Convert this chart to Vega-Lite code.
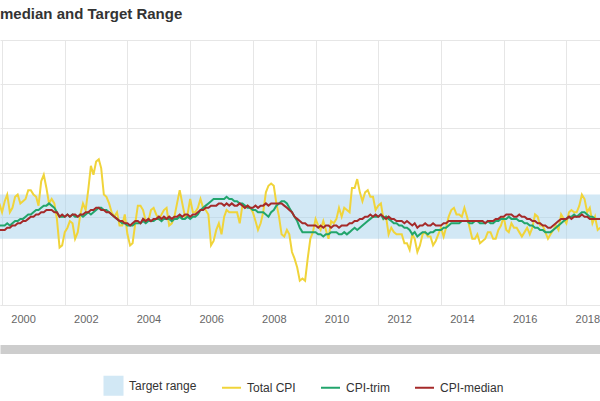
{
"$schema": "https://vega.github.io/schema/vega-lite/v6.json",
"width": 600,
"height": 265,
"autosize": {"type": "none"},
"padding": {"left": 0, "top": 40, "right": 0, "bottom": 96},
"background": "#ffffff",
"title": {"text": "median and Target Range", "anchor": "start", "frame": "group", "fontSize": 15, "fontWeight": "bold", "color": "#333333", "font": "Liberation Sans", "baseline": "alphabetic", "offset": 6},
"config": {"view": {"stroke": null}},
"layer": [
{
"data": {"values": [{"start": "1999-01-01", "end": "2020-01-01", "lo": 1, "hi": 3, "series": "Target range"}]},
"mark": {"type": "rect", "opacity": 0.5, "clip": true},
"encoding": {
"x": {"field": "start", "type": "temporal", "scale": {"type": "utc", "nice": false, "domain": [{"year": 1999, "month": 12, "date": 8, "utc": true}, {"year": 2019, "month": 1, "date": 28, "utc": true}]}, "axis": {"orient": "bottom", "offset": 44, "domainWidth": 9, "domainColor": "#cdcdcd", "labels": false, "ticks": false, "grid": false, "title": null}},
"x2": {"field": "end"},
"y": {"field": "lo", "type": "quantitative", "scale": {"domain": [-2, 10], "nice": false, "zero": false}, "axis": {"values": [-2, 0, 2, 4, 6, 8, 10], "labels": false, "ticks": false, "domain": false, "grid": true, "gridColor": "#e6e6e6", "title": null}},
"y2": {"field": "hi"},
"color": {"field": "series", "type": "nominal", "scale": {"domain": ["Target range", "Total CPI", "CPI-trim", "CPI-median"], "range": ["#a5d1eb", "#f0d43a", "#22a56c", "#a52a2a"]},
"legend": {"orient": "none", "legendX": 103, "legendY": 335, "direction": "horizontal", "title": null, "symbolSize": 400, "symbolType": "square", "labelFont": "Liberation Sans", "labelFontSize": 12, "labelColor": "#333333", "labelOffset": 5, "columnPadding": 21, "padding": 0,
"encode": {"symbols": {"update": {
"shape": {"signal": "datum.value === 'Target range' ? 'square' : 'stroke'"},
"size": {"signal": "datum.value === 'Target range' ? 400 : 361"},
"fill": {"scale": "color", "field": "value"},
"fillOpacity": {"signal": "datum.value === 'Target range' ? 0.5 : 0"},
"stroke": {"signal": "datum.value === 'Target range' ? 'transparent' : datum.value === 'Total CPI' ? '#f0d43a' : datum.value === 'CPI-trim' ? '#22a56c' : '#a52a2a'"},
"strokeWidth": {"value": 2},
"opacity": {"value": 1},
"strokeOpacity": {"signal": "datum.value === 'Target range' ? 0 : 1"}
}}}}}
}
},
{
"data": {"values": [
{"date":"1999-12-01","Total CPI":2.6,"CPI-trim":1.6,"CPI-median":1.4},
{"date":"2000-01-01","Total CPI":2.2,"CPI-trim":1.6,"CPI-median":1.4},
{"date":"2000-02-01","Total CPI":2.7,"CPI-trim":1.6,"CPI-median":1.4},
{"date":"2000-03-01","Total CPI":3.0,"CPI-trim":1.7,"CPI-median":1.5},
{"date":"2000-04-01","Total CPI":2.2,"CPI-trim":1.6,"CPI-median":1.5},
{"date":"2000-05-01","Total CPI":2.4,"CPI-trim":1.7,"CPI-median":1.6},
{"date":"2000-06-01","Total CPI":2.9,"CPI-trim":1.8,"CPI-median":1.6},
{"date":"2000-07-01","Total CPI":3.0,"CPI-trim":1.8,"CPI-median":1.7},
{"date":"2000-08-01","Total CPI":2.6,"CPI-trim":1.9,"CPI-median":1.7},
{"date":"2000-09-01","Total CPI":2.7,"CPI-trim":1.9,"CPI-median":1.8},
{"date":"2000-10-01","Total CPI":2.8,"CPI-trim":2.0,"CPI-median":1.8},
{"date":"2000-11-01","Total CPI":3.2,"CPI-trim":2.1,"CPI-median":1.9},
{"date":"2000-12-01","Total CPI":3.2,"CPI-trim":2.1,"CPI-median":2.0},
{"date":"2001-01-01","Total CPI":3.0,"CPI-trim":2.2,"CPI-median":2.0},
{"date":"2001-02-01","Total CPI":2.9,"CPI-trim":2.3,"CPI-median":2.1},
{"date":"2001-03-01","Total CPI":2.5,"CPI-trim":2.3,"CPI-median":2.1},
{"date":"2001-04-01","Total CPI":3.6,"CPI-trim":2.4,"CPI-median":2.2},
{"date":"2001-05-01","Total CPI":3.9,"CPI-trim":2.5,"CPI-median":2.2},
{"date":"2001-06-01","Total CPI":3.3,"CPI-trim":2.5,"CPI-median":2.3},
{"date":"2001-07-01","Total CPI":2.6,"CPI-trim":2.6,"CPI-median":2.3},
{"date":"2001-08-01","Total CPI":2.8,"CPI-trim":2.5,"CPI-median":2.3},
{"date":"2001-09-01","Total CPI":2.6,"CPI-trim":2.4,"CPI-median":2.2},
{"date":"2001-10-01","Total CPI":1.9,"CPI-trim":2.2,"CPI-median":2.2},
{"date":"2001-11-01","Total CPI":0.6,"CPI-trim":2.0,"CPI-median":2.0},
{"date":"2001-12-01","Total CPI":0.7,"CPI-trim":2.0,"CPI-median":2.1},
{"date":"2002-01-01","Total CPI":1.3,"CPI-trim":2.0,"CPI-median":2.0},
{"date":"2002-02-01","Total CPI":1.5,"CPI-trim":2.1,"CPI-median":2.1},
{"date":"2002-03-01","Total CPI":1.8,"CPI-trim":2.0,"CPI-median":2.0},
{"date":"2002-04-01","Total CPI":1.7,"CPI-trim":2.1,"CPI-median":2.1},
{"date":"2002-05-01","Total CPI":1.0,"CPI-trim":2.0,"CPI-median":2.1},
{"date":"2002-06-01","Total CPI":1.3,"CPI-trim":2.0,"CPI-median":2.0},
{"date":"2002-07-01","Total CPI":2.1,"CPI-trim":2.1,"CPI-median":2.1},
{"date":"2002-08-01","Total CPI":2.6,"CPI-trim":2.0,"CPI-median":2.1},
{"date":"2002-09-01","Total CPI":2.3,"CPI-trim":2.1,"CPI-median":2.2},
{"date":"2002-10-01","Total CPI":3.2,"CPI-trim":2.2,"CPI-median":2.2},
{"date":"2002-11-01","Total CPI":4.3,"CPI-trim":2.1,"CPI-median":2.3},
{"date":"2002-12-01","Total CPI":3.9,"CPI-trim":2.2,"CPI-median":2.3},
{"date":"2003-01-01","Total CPI":4.5,"CPI-trim":2.3,"CPI-median":2.4},
{"date":"2003-02-01","Total CPI":4.6,"CPI-trim":2.4,"CPI-median":2.4},
{"date":"2003-03-01","Total CPI":4.2,"CPI-trim":2.4,"CPI-median":2.3},
{"date":"2003-04-01","Total CPI":3.0,"CPI-trim":2.3,"CPI-median":2.3},
{"date":"2003-05-01","Total CPI":2.9,"CPI-trim":2.3,"CPI-median":2.2},
{"date":"2003-06-01","Total CPI":2.6,"CPI-trim":2.2,"CPI-median":2.2},
{"date":"2003-07-01","Total CPI":2.2,"CPI-trim":2.1,"CPI-median":2.1},
{"date":"2003-08-01","Total CPI":2.0,"CPI-trim":2.0,"CPI-median":2.0},
{"date":"2003-09-01","Total CPI":2.2,"CPI-trim":1.9,"CPI-median":1.9},
{"date":"2003-10-01","Total CPI":1.6,"CPI-trim":1.8,"CPI-median":1.8},
{"date":"2003-11-01","Total CPI":1.6,"CPI-trim":1.7,"CPI-median":1.8},
{"date":"2003-12-01","Total CPI":2.1,"CPI-trim":1.7,"CPI-median":1.7},
{"date":"2004-01-01","Total CPI":1.2,"CPI-trim":1.6,"CPI-median":1.7},
{"date":"2004-02-01","Total CPI":0.7,"CPI-trim":1.6,"CPI-median":1.6},
{"date":"2004-03-01","Total CPI":0.8,"CPI-trim":1.6,"CPI-median":1.7},
{"date":"2004-04-01","Total CPI":1.7,"CPI-trim":1.7,"CPI-median":1.8},
{"date":"2004-05-01","Total CPI":2.5,"CPI-trim":1.7,"CPI-median":1.8},
{"date":"2004-06-01","Total CPI":2.5,"CPI-trim":1.7,"CPI-median":1.7},
{"date":"2004-07-01","Total CPI":2.3,"CPI-trim":1.8,"CPI-median":1.9},
{"date":"2004-08-01","Total CPI":1.8,"CPI-trim":1.7,"CPI-median":1.8},
{"date":"2004-09-01","Total CPI":1.8,"CPI-trim":1.8,"CPI-median":1.9},
{"date":"2004-10-01","Total CPI":2.3,"CPI-trim":1.8,"CPI-median":1.8},
{"date":"2004-11-01","Total CPI":2.4,"CPI-trim":1.8,"CPI-median":1.9},
{"date":"2004-12-01","Total CPI":2.1,"CPI-trim":1.9,"CPI-median":1.9},
{"date":"2005-01-01","Total CPI":1.9,"CPI-trim":1.9,"CPI-median":2.0},
{"date":"2005-02-01","Total CPI":2.1,"CPI-trim":1.8,"CPI-median":1.9},
{"date":"2005-03-01","Total CPI":2.3,"CPI-trim":1.9,"CPI-median":2.0},
{"date":"2005-04-01","Total CPI":2.4,"CPI-trim":1.9,"CPI-median":1.9},
{"date":"2005-05-01","Total CPI":1.6,"CPI-trim":1.9,"CPI-median":2.0},
{"date":"2005-06-01","Total CPI":1.7,"CPI-trim":1.8,"CPI-median":1.9},
{"date":"2005-07-01","Total CPI":2.0,"CPI-trim":1.9,"CPI-median":2.0},
{"date":"2005-08-01","Total CPI":2.6,"CPI-trim":1.9,"CPI-median":2.0},
{"date":"2005-09-01","Total CPI":3.2,"CPI-trim":2.0,"CPI-median":2.1},
{"date":"2005-10-01","Total CPI":2.6,"CPI-trim":1.9,"CPI-median":2.0},
{"date":"2005-11-01","Total CPI":2.0,"CPI-trim":1.9,"CPI-median":2.1},
{"date":"2005-12-01","Total CPI":2.1,"CPI-trim":2.0,"CPI-median":2.1},
{"date":"2006-01-01","Total CPI":2.8,"CPI-trim":1.9,"CPI-median":2.0},
{"date":"2006-02-01","Total CPI":2.2,"CPI-trim":2.0,"CPI-median":2.1},
{"date":"2006-03-01","Total CPI":2.2,"CPI-trim":2.0,"CPI-median":2.1},
{"date":"2006-04-01","Total CPI":2.4,"CPI-trim":2.1,"CPI-median":2.2},
{"date":"2006-05-01","Total CPI":2.8,"CPI-trim":2.3,"CPI-median":2.3},
{"date":"2006-06-01","Total CPI":2.4,"CPI-trim":2.4,"CPI-median":2.3},
{"date":"2006-07-01","Total CPI":2.3,"CPI-trim":2.5,"CPI-median":2.4},
{"date":"2006-08-01","Total CPI":2.1,"CPI-trim":2.6,"CPI-median":2.4},
{"date":"2006-09-01","Total CPI":0.7,"CPI-trim":2.7,"CPI-median":2.5},
{"date":"2006-10-01","Total CPI":0.9,"CPI-trim":2.8,"CPI-median":2.5},
{"date":"2006-11-01","Total CPI":1.4,"CPI-trim":2.8,"CPI-median":2.5},
{"date":"2006-12-01","Total CPI":1.7,"CPI-trim":2.8,"CPI-median":2.6},
{"date":"2007-01-01","Total CPI":1.2,"CPI-trim":2.8,"CPI-median":2.6},
{"date":"2007-02-01","Total CPI":2.0,"CPI-trim":2.8,"CPI-median":2.5},
{"date":"2007-03-01","Total CPI":2.3,"CPI-trim":2.9,"CPI-median":2.6},
{"date":"2007-04-01","Total CPI":2.2,"CPI-trim":2.8,"CPI-median":2.5},
{"date":"2007-05-01","Total CPI":2.2,"CPI-trim":2.8,"CPI-median":2.6},
{"date":"2007-06-01","Total CPI":2.2,"CPI-trim":2.7,"CPI-median":2.5},
{"date":"2007-07-01","Total CPI":2.2,"CPI-trim":2.7,"CPI-median":2.5},
{"date":"2007-08-01","Total CPI":1.7,"CPI-trim":2.6,"CPI-median":2.6},
{"date":"2007-09-01","Total CPI":2.5,"CPI-trim":2.6,"CPI-median":2.5},
{"date":"2007-10-01","Total CPI":2.4,"CPI-trim":2.5,"CPI-median":2.4},
{"date":"2007-11-01","Total CPI":2.5,"CPI-trim":2.4,"CPI-median":2.5},
{"date":"2007-12-01","Total CPI":2.4,"CPI-trim":2.4,"CPI-median":2.4},
{"date":"2008-01-01","Total CPI":2.2,"CPI-trim":2.3,"CPI-median":2.4},
{"date":"2008-02-01","Total CPI":1.8,"CPI-trim":2.3,"CPI-median":2.5},
{"date":"2008-03-01","Total CPI":1.4,"CPI-trim":2.2,"CPI-median":2.4},
{"date":"2008-04-01","Total CPI":1.7,"CPI-trim":2.2,"CPI-median":2.5},
{"date":"2008-05-01","Total CPI":2.2,"CPI-trim":2.2,"CPI-median":2.5},
{"date":"2008-06-01","Total CPI":3.1,"CPI-trim":2.1,"CPI-median":2.6},
{"date":"2008-07-01","Total CPI":3.4,"CPI-trim":2.0,"CPI-median":2.5},
{"date":"2008-08-01","Total CPI":3.5,"CPI-trim":2.2,"CPI-median":2.6},
{"date":"2008-09-01","Total CPI":3.4,"CPI-trim":2.3,"CPI-median":2.6},
{"date":"2008-10-01","Total CPI":2.6,"CPI-trim":2.5,"CPI-median":2.6},
{"date":"2008-11-01","Total CPI":2.0,"CPI-trim":2.6,"CPI-median":2.6},
{"date":"2008-12-01","Total CPI":1.2,"CPI-trim":2.7,"CPI-median":2.6},
{"date":"2009-01-01","Total CPI":1.1,"CPI-trim":2.7,"CPI-median":2.5},
{"date":"2009-02-01","Total CPI":1.4,"CPI-trim":2.6,"CPI-median":2.4},
{"date":"2009-03-01","Total CPI":1.2,"CPI-trim":2.4,"CPI-median":2.3},
{"date":"2009-04-01","Total CPI":0.4,"CPI-trim":2.2,"CPI-median":2.2},
{"date":"2009-05-01","Total CPI":0.1,"CPI-trim":2.0,"CPI-median":2.0},
{"date":"2009-06-01","Total CPI":-0.3,"CPI-trim":1.8,"CPI-median":1.9},
{"date":"2009-07-01","Total CPI":-0.9,"CPI-trim":1.5,"CPI-median":1.8},
{"date":"2009-08-01","Total CPI":-0.8,"CPI-trim":1.3,"CPI-median":1.7},
{"date":"2009-09-01","Total CPI":-0.9,"CPI-trim":1.3,"CPI-median":1.7},
{"date":"2009-10-01","Total CPI":0.1,"CPI-trim":1.3,"CPI-median":1.6},
{"date":"2009-11-01","Total CPI":1.0,"CPI-trim":1.3,"CPI-median":1.6},
{"date":"2009-12-01","Total CPI":1.3,"CPI-trim":1.3,"CPI-median":1.6},
{"date":"2010-01-01","Total CPI":1.9,"CPI-trim":1.3,"CPI-median":1.6},
{"date":"2010-02-01","Total CPI":1.6,"CPI-trim":1.2,"CPI-median":1.5},
{"date":"2010-03-01","Total CPI":1.4,"CPI-trim":1.2,"CPI-median":1.6},
{"date":"2010-04-01","Total CPI":1.8,"CPI-trim":1.1,"CPI-median":1.5},
{"date":"2010-05-01","Total CPI":1.4,"CPI-trim":1.2,"CPI-median":1.6},
{"date":"2010-06-01","Total CPI":1.0,"CPI-trim":1.2,"CPI-median":1.6},
{"date":"2010-07-01","Total CPI":1.8,"CPI-trim":1.3,"CPI-median":1.5},
{"date":"2010-08-01","Total CPI":1.7,"CPI-trim":1.3,"CPI-median":1.6},
{"date":"2010-09-01","Total CPI":1.9,"CPI-trim":1.3,"CPI-median":1.6},
{"date":"2010-10-01","Total CPI":2.4,"CPI-trim":1.2,"CPI-median":1.5},
{"date":"2010-11-01","Total CPI":2.0,"CPI-trim":1.2,"CPI-median":1.6},
{"date":"2010-12-01","Total CPI":2.4,"CPI-trim":1.3,"CPI-median":1.6},
{"date":"2011-01-01","Total CPI":2.3,"CPI-trim":1.2,"CPI-median":1.6},
{"date":"2011-02-01","Total CPI":2.2,"CPI-trim":1.3,"CPI-median":1.7},
{"date":"2011-03-01","Total CPI":3.3,"CPI-trim":1.4,"CPI-median":1.7},
{"date":"2011-04-01","Total CPI":3.3,"CPI-trim":1.5,"CPI-median":1.8},
{"date":"2011-05-01","Total CPI":3.7,"CPI-trim":1.4,"CPI-median":1.8},
{"date":"2011-06-01","Total CPI":3.1,"CPI-trim":1.5,"CPI-median":1.9},
{"date":"2011-07-01","Total CPI":2.7,"CPI-trim":1.6,"CPI-median":1.9},
{"date":"2011-08-01","Total CPI":3.1,"CPI-trim":1.7,"CPI-median":2.0},
{"date":"2011-09-01","Total CPI":3.2,"CPI-trim":1.8,"CPI-median":2.0},
{"date":"2011-10-01","Total CPI":2.9,"CPI-trim":1.9,"CPI-median":2.1},
{"date":"2011-11-01","Total CPI":2.9,"CPI-trim":2.0,"CPI-median":2.0},
{"date":"2011-12-01","Total CPI":2.3,"CPI-trim":2.0,"CPI-median":2.1},
{"date":"2012-01-01","Total CPI":2.5,"CPI-trim":2.0,"CPI-median":2.0},
{"date":"2012-02-01","Total CPI":2.6,"CPI-trim":2.1,"CPI-median":2.1},
{"date":"2012-03-01","Total CPI":1.9,"CPI-trim":1.9,"CPI-median":2.0},
{"date":"2012-04-01","Total CPI":2.0,"CPI-trim":2.0,"CPI-median":1.9},
{"date":"2012-05-01","Total CPI":1.2,"CPI-trim":1.9,"CPI-median":2.0},
{"date":"2012-06-01","Total CPI":1.5,"CPI-trim":1.8,"CPI-median":1.9},
{"date":"2012-07-01","Total CPI":1.3,"CPI-trim":1.7,"CPI-median":1.9},
{"date":"2012-08-01","Total CPI":1.2,"CPI-trim":1.7,"CPI-median":1.8},
{"date":"2012-09-01","Total CPI":1.2,"CPI-trim":1.6,"CPI-median":1.8},
{"date":"2012-10-01","Total CPI":1.2,"CPI-trim":1.6,"CPI-median":1.8},
{"date":"2012-11-01","Total CPI":0.8,"CPI-trim":1.5,"CPI-median":1.7},
{"date":"2012-12-01","Total CPI":0.8,"CPI-trim":1.5,"CPI-median":1.8},
{"date":"2013-01-01","Total CPI":0.5,"CPI-trim":1.4,"CPI-median":1.7},
{"date":"2013-02-01","Total CPI":1.2,"CPI-trim":1.2,"CPI-median":1.6},
{"date":"2013-03-01","Total CPI":1.0,"CPI-trim":1.3,"CPI-median":1.7},
{"date":"2013-04-01","Total CPI":0.4,"CPI-trim":1.1,"CPI-median":1.5},
{"date":"2013-05-01","Total CPI":0.7,"CPI-trim":1.2,"CPI-median":1.6},
{"date":"2013-06-01","Total CPI":1.2,"CPI-trim":1.3,"CPI-median":1.6},
{"date":"2013-07-01","Total CPI":1.3,"CPI-trim":1.3,"CPI-median":1.7},
{"date":"2013-08-01","Total CPI":1.1,"CPI-trim":1.2,"CPI-median":1.6},
{"date":"2013-09-01","Total CPI":1.1,"CPI-trim":1.3,"CPI-median":1.6},
{"date":"2013-10-01","Total CPI":0.7,"CPI-trim":1.3,"CPI-median":1.7},
{"date":"2013-11-01","Total CPI":0.9,"CPI-trim":1.4,"CPI-median":1.6},
{"date":"2013-12-01","Total CPI":1.2,"CPI-trim":1.4,"CPI-median":1.6},
{"date":"2014-01-01","Total CPI":1.5,"CPI-trim":1.4,"CPI-median":1.6},
{"date":"2014-02-01","Total CPI":1.1,"CPI-trim":1.5,"CPI-median":1.7},
{"date":"2014-03-01","Total CPI":1.5,"CPI-trim":1.5,"CPI-median":1.7},
{"date":"2014-04-01","Total CPI":2.0,"CPI-trim":1.6,"CPI-median":1.8},
{"date":"2014-05-01","Total CPI":2.3,"CPI-trim":1.7,"CPI-median":1.8},
{"date":"2014-06-01","Total CPI":2.4,"CPI-trim":1.7,"CPI-median":1.8},
{"date":"2014-07-01","Total CPI":2.1,"CPI-trim":1.7,"CPI-median":1.8},
{"date":"2014-08-01","Total CPI":2.1,"CPI-trim":1.7,"CPI-median":1.8},
{"date":"2014-09-01","Total CPI":2.0,"CPI-trim":1.8,"CPI-median":1.8},
{"date":"2014-10-01","Total CPI":2.4,"CPI-trim":1.8,"CPI-median":1.8},
{"date":"2014-11-01","Total CPI":2.0,"CPI-trim":1.8,"CPI-median":1.8},
{"date":"2014-12-01","Total CPI":1.5,"CPI-trim":1.7,"CPI-median":1.8},
{"date":"2015-01-01","Total CPI":1.0,"CPI-trim":1.7,"CPI-median":1.8},
{"date":"2015-02-01","Total CPI":1.0,"CPI-trim":1.8,"CPI-median":1.8},
{"date":"2015-03-01","Total CPI":1.2,"CPI-trim":1.8,"CPI-median":1.8},
{"date":"2015-04-01","Total CPI":0.8,"CPI-trim":1.7,"CPI-median":1.8},
{"date":"2015-05-01","Total CPI":0.9,"CPI-trim":1.7,"CPI-median":1.8},
{"date":"2015-06-01","Total CPI":1.0,"CPI-trim":1.7,"CPI-median":1.7},
{"date":"2015-07-01","Total CPI":1.3,"CPI-trim":1.8,"CPI-median":1.8},
{"date":"2015-08-01","Total CPI":1.3,"CPI-trim":1.7,"CPI-median":1.8},
{"date":"2015-09-01","Total CPI":1.0,"CPI-trim":1.7,"CPI-median":1.8},
{"date":"2015-10-01","Total CPI":1.0,"CPI-trim":1.8,"CPI-median":1.9},
{"date":"2015-11-01","Total CPI":1.4,"CPI-trim":1.8,"CPI-median":1.9},
{"date":"2015-12-01","Total CPI":1.6,"CPI-trim":1.9,"CPI-median":2.0},
{"date":"2016-01-01","Total CPI":2.0,"CPI-trim":1.9,"CPI-median":2.0},
{"date":"2016-02-01","Total CPI":1.4,"CPI-trim":1.9,"CPI-median":2.1},
{"date":"2016-03-01","Total CPI":1.3,"CPI-trim":2.0,"CPI-median":2.1},
{"date":"2016-04-01","Total CPI":1.7,"CPI-trim":1.9,"CPI-median":2.1},
{"date":"2016-05-01","Total CPI":1.5,"CPI-trim":1.9,"CPI-median":2.0},
{"date":"2016-06-01","Total CPI":1.5,"CPI-trim":1.9,"CPI-median":2.0},
{"date":"2016-07-01","Total CPI":1.3,"CPI-trim":1.8,"CPI-median":2.1},
{"date":"2016-08-01","Total CPI":1.1,"CPI-trim":1.8,"CPI-median":2.0},
{"date":"2016-09-01","Total CPI":1.3,"CPI-trim":1.7,"CPI-median":2.0},
{"date":"2016-10-01","Total CPI":1.5,"CPI-trim":1.7,"CPI-median":1.9},
{"date":"2016-11-01","Total CPI":1.2,"CPI-trim":1.6,"CPI-median":1.9},
{"date":"2016-12-01","Total CPI":1.5,"CPI-trim":1.6,"CPI-median":1.8},
{"date":"2017-01-01","Total CPI":2.1,"CPI-trim":1.5,"CPI-median":1.8},
{"date":"2017-02-01","Total CPI":2.0,"CPI-trim":1.5,"CPI-median":1.7},
{"date":"2017-03-01","Total CPI":1.6,"CPI-trim":1.4,"CPI-median":1.7},
{"date":"2017-04-01","Total CPI":1.6,"CPI-trim":1.4,"CPI-median":1.6},
{"date":"2017-05-01","Total CPI":1.3,"CPI-trim":1.3,"CPI-median":1.6},
{"date":"2017-06-01","Total CPI":1.0,"CPI-trim":1.3,"CPI-median":1.5},
{"date":"2017-07-01","Total CPI":1.2,"CPI-trim":1.3,"CPI-median":1.5},
{"date":"2017-08-01","Total CPI":1.4,"CPI-trim":1.4,"CPI-median":1.6},
{"date":"2017-09-01","Total CPI":1.6,"CPI-trim":1.5,"CPI-median":1.7},
{"date":"2017-10-01","Total CPI":1.4,"CPI-trim":1.6,"CPI-median":1.8},
{"date":"2017-11-01","Total CPI":2.1,"CPI-trim":1.7,"CPI-median":1.9},
{"date":"2017-12-01","Total CPI":1.9,"CPI-trim":1.8,"CPI-median":1.9},
{"date":"2018-01-01","Total CPI":1.7,"CPI-trim":1.9,"CPI-median":1.9},
{"date":"2018-02-01","Total CPI":2.2,"CPI-trim":2.0,"CPI-median":2.0},
{"date":"2018-03-01","Total CPI":2.3,"CPI-trim":2.0,"CPI-median":1.9},
{"date":"2018-04-01","Total CPI":2.2,"CPI-trim":2.1,"CPI-median":2.0},
{"date":"2018-05-01","Total CPI":2.2,"CPI-trim":2.0,"CPI-median":2.0},
{"date":"2018-06-01","Total CPI":2.5,"CPI-trim":2.1,"CPI-median":2.0},
{"date":"2018-07-01","Total CPI":3.0,"CPI-trim":2.2,"CPI-median":2.1},
{"date":"2018-08-01","Total CPI":2.8,"CPI-trim":2.2,"CPI-median":2.0},
{"date":"2018-09-01","Total CPI":2.2,"CPI-trim":2.1,"CPI-median":2.0},
{"date":"2018-10-01","Total CPI":2.4,"CPI-trim":2.0,"CPI-median":1.9},
{"date":"2018-11-01","Total CPI":1.7,"CPI-trim":2.0,"CPI-median":1.9},
{"date":"2018-12-01","Total CPI":2.0,"CPI-trim":1.9,"CPI-median":1.9},
{"date":"2019-01-01","Total CPI":1.4,"CPI-trim":1.9,"CPI-median":1.9},
{"date":"2019-02-01","Total CPI":1.5,"CPI-trim":1.9,"CPI-median":1.9}
]},
"transform": [{"fold": ["Total CPI", "CPI-trim", "CPI-median"], "as": ["series", "value"]}],
"mark": {"type": "line", "strokeWidth": 2, "clip": true},
"encoding": {
"x": {"field": "date", "type": "temporal", "axis": {"orient": "bottom", "format": "%Y", "tickCount": {"interval": "year", "step": 2}, "labelOffset": 21, "ticks": false, "grid": true, "gridColor": "#e6e6e6", "domainColor": "#e6e6e6", "labelFont": "Liberation Sans", "labelFontSize": 11, "labelColor": "#666666", "labelPadding": 8, "labelFlush": false, "labelOverlap": false, "title": null}},
"y": {"field": "value", "type": "quantitative"},
"color": {"field": "series", "type": "nominal",
"legend": {"orient": "none", "legendX": 103, "legendY": 335, "direction": "horizontal", "title": null, "symbolSize": 400, "symbolType": "square", "labelFont": "Liberation Sans", "labelFontSize": 12, "labelColor": "#333333", "labelOffset": 5, "columnPadding": 21, "padding": 0,
"encode": {"symbols": {"update": {
"shape": {"signal": "datum.value === 'Target range' ? 'square' : 'stroke'"},
"size": {"signal": "datum.value === 'Target range' ? 400 : 361"},
"fill": {"scale": "color", "field": "value"},
"fillOpacity": {"signal": "datum.value === 'Target range' ? 0.5 : 0"},
"stroke": {"signal": "datum.value === 'Target range' ? 'transparent' : datum.value === 'Total CPI' ? '#f0d43a' : datum.value === 'CPI-trim' ? '#22a56c' : '#a52a2a'"},
"strokeWidth": {"value": 2},
"opacity": {"value": 1},
"strokeOpacity": {"signal": "datum.value === 'Target range' ? 0 : 1"}
}}}}}
}
}
],
"resolve": {"axis": {"x": "independent"}}
}
